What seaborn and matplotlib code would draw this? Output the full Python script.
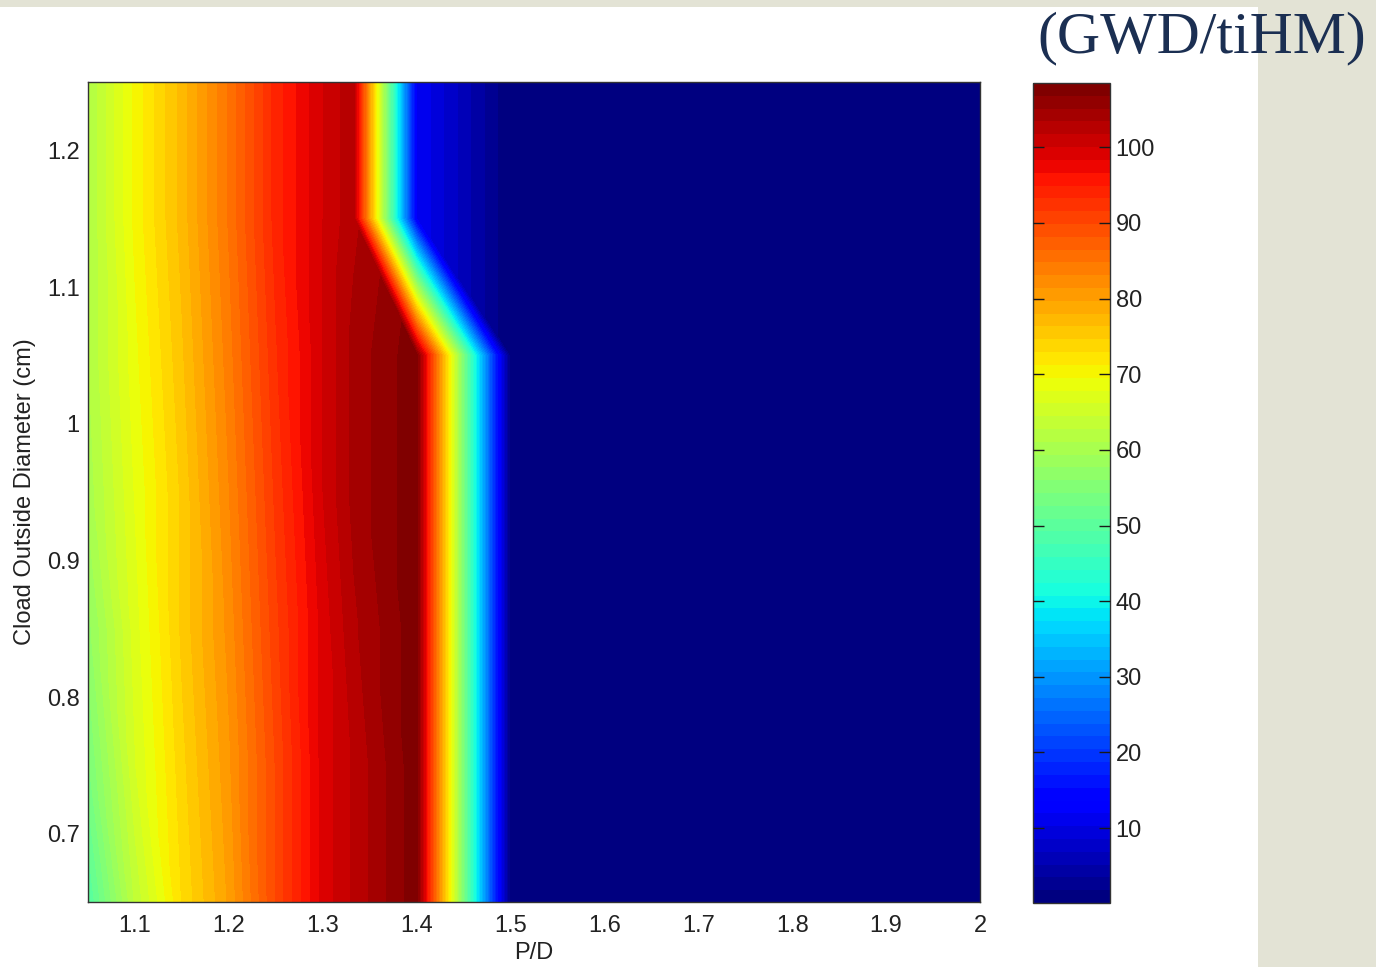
import numpy as np
import matplotlib
matplotlib.use("Agg")
import matplotlib.pyplot as plt
import matplotlib.tri as mtri
from matplotlib.patches import Rectangle
import seaborn as sns

# ---------------- data ----------------
pd_ratio = [1.05, 1.10, 1.15, 1.20, 1.25, 1.30, 1.333, 1.40, 1.50, 1.60, 1.70, 1.80, 1.90, 2.00]
clad_od = [0.65, 0.75, 0.85, 0.95, 1.05, 1.15, 1.25]

burnup_065 = [49, 63, 73, 80, 90, 99, 102, 108, 0.2, 0.2, 0.2, 0.2, 0.2, 0.2]
burnup_075 = [54, 66, 74, 81, 90, 99, 102, 108, 0.2, 0.2, 0.2, 0.2, 0.2, 0.2]
burnup_085 = [57, 67, 75, 82, 91, 99, 103, 108, 0.2, 0.2, 0.2, 0.2, 0.2, 0.2]
burnup_095 = [60, 68, 75, 83, 92, 100, 104, 108, 0.2, 0.2, 0.2, 0.2, 0.2, 0.2]
burnup_105 = [61, 69, 76, 84, 93, 100, 104, 108, 0.2, 0.2, 0.2, 0.2, 0.2, 0.2]
burnup_115 = [61, 70, 77, 85, 94, 100, 103, 12, 0.2, 0.2, 0.2, 0.2, 0.2, 0.2]
burnup_125 = [61, 70, 77, 85, 94, 100, 103, 12, 0.2, 0.2, 0.2, 0.2, 0.2, 0.2]

x_ticks = [1.1, 1.2, 1.3, 1.4, 1.5, 1.6, 1.7, 1.8, 1.9, 2.0]
x_ticklabels = ["1.1", "1.2", "1.3", "1.4", "1.5", "1.6", "1.7", "1.8", "1.9", "2"]
y_ticks = [0.7, 0.8, 0.9, 1.0, 1.1, 1.2]
y_ticklabels = ["0.7", "0.8", "0.9", "1", "1.1", "1.2"]
cbar_ticks = [10, 20, 30, 40, 50, 60, 70, 80, 90, 100]
c_min, c_max = 0.1, 108.5

# ---------------- style ----------------
sns.set_style("white")
plt.rcParams["font.family"] = ["Liberation Sans", "DejaVu Sans"]

W, H = 1376, 967
fig = plt.figure(figsize=(W / 100, H / 100), dpi=100)
fig.patch.set_facecolor("#E3E3D5")
fig.patches.append(Rectangle((0, 0), 1258 / W, (H - 7) / H, transform=fig.transFigure,
                             facecolor="white", edgecolor="none", zorder=-10))

ax = fig.add_axes([88 / W, (H - 902) / H, (980 - 88) / W, (902 - 82) / H])
cax = fig.add_axes([1033 / W, (H - 903) / H, (1110 - 1033) / W, (903 - 83) / H])

Z = np.array([burnup_065, burnup_075, burnup_085, burnup_095,
              burnup_105, burnup_115, burnup_125])
X, Y = np.meshgrid(pd_ratio, clad_od)
ny, nx = Z.shape

# triangulate each grid cell along its top-left / bottom-right diagonal
triangles = []
for j in range(ny - 1):
    for i in range(nx - 1):
        a = j * nx + i
        b = a + 1
        c = a + nx
        d = c + 1
        triangles.append([a, b, c])
        triangles.append([b, d, c])
tri = mtri.Triangulation(X.ravel(), Y.ravel(), np.array(triangles))

jet64 = matplotlib.colormaps["jet"].resampled(64)
levels = np.linspace(c_min, c_max, 65)
cs = ax.tricontourf(tri, Z.ravel(), levels=levels, cmap=jet64,
                    vmin=c_min, vmax=c_max, antialiased=False)

ax.set_xlim(1.05, 2.0)
ax.set_ylim(0.65, 1.25)
ax.set_xticks(x_ticks)
ax.set_xticklabels(x_ticklabels)
ax.set_yticks(y_ticks)
ax.set_yticklabels(y_ticklabels)
ax.tick_params(axis="both", length=0, labelsize=17, colors="#222222")
ax.tick_params(axis="x", pad=9)
ax.tick_params(axis="y", pad=6)
ax.set_xlabel("P/D", fontsize=17, labelpad=4, color="#222222")
ax.set_ylabel("Cload Outside Diameter (cm)", fontsize=17, labelpad=8, color="#222222")
for s in ax.spines.values():
    s.set_color("#333333")
    s.set_linewidth(1.0)

cb = fig.colorbar(cs, cax=cax, ticks=cbar_ticks)
cb.outline.set_edgecolor("#333333")
cb.outline.set_linewidth(1.0)
cax.set_axisbelow(False)
cax.yaxis.set_ticks_position("both")
cax.yaxis.set_tick_params(which="major", direction="in", left=True, right=True,
                          labelleft=False, labelright=True, length=8, width=1.0,
                          labelsize=17, color="#1a1a1a", labelcolor="#222222", pad=4)

fig.text(1366 / W, 1 - 52 / H, "(GWD/tiHM)", ha="right", va="baseline",
         fontsize=43, family=["Liberation Serif", "DejaVu Serif"], color="#1B2F52")

fig.savefig("out.png", dpi=100, facecolor=fig.get_facecolor())
